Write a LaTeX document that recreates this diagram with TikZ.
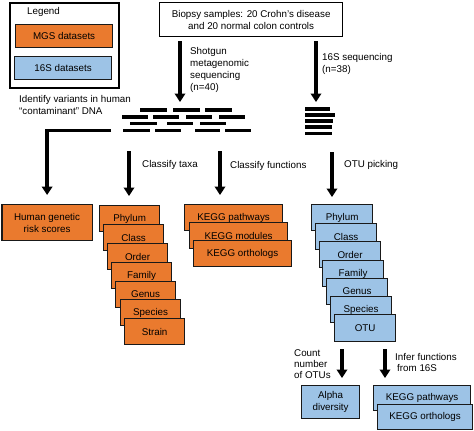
\documentclass[tikz,border=0pt]{standalone}
\usepackage{fontspec}
\setmainfont{Liberation Sans}
\usetikzlibrary{arrows.meta}
\definecolor{mgs}{HTML}{EA7A2E}
\definecolor{sixs}{HTML}{9DC3E6}
\begin{document}
\begin{tikzpicture}[x=1pt,y=-1pt, font=\fontsize{9.8}{12}\selectfont,
 arr/.style={line width=3.3pt, -{Triangle[width=10.5pt,length=8.5pt]}},
 box/.style={draw=black!90, line width=1.2pt, inner sep=0pt, align=center},
 mgsbox/.style={box, fill=mgs},
 sbox/.style={box, fill=sixs},
 stack/.style={anchor=north west, minimum width=60pt, minimum height=26pt},
 kstack/.style={anchor=north west, minimum width=98pt, minimum height=26pt},
 lbl/.style={anchor=west, inner sep=0pt, align=left},
 readbar/.style={line width=3.5pt}]
\useasboundingbox (0,0) rectangle (474,431);

% legend
\node[draw, line width=2.2pt, minimum width=109pt, minimum height=85pt, anchor=north west, inner sep=0pt] (legend) at (9,2) {};
\node[lbl] (legtitle) at (27,12) {Legend};
\node[mgsbox, minimum width=97pt, minimum height=23pt, anchor=north west] (mgsleg) at (15,24) {MGS datasets};
\node[sbox, minimum width=97pt, minimum height=23pt, anchor=north west] (sleg) at (14,56) {16S datasets};

% biopsy
\node[box, draw=black, line width=1.3pt, minimum width=183pt, minimum height=34pt, anchor=north west] (biopsy) at (159,2) {Biopsy samples: 20 Crohn's disease\\and 20 normal colon controls};

% labels
\node[lbl] (shotlbl) at (190,69.5) {Shotgun\\metagenomic\\sequencing\\(n=40)};
\node[lbl] (s16lbl) at (322,63.5) {16S sequencing\\(n=38)};
\node[lbl] (idlbl) at (19,105) {Identify variants in human\\``contaminant'' DNA};

% top arrows
\coordinate (mgstip) at (180,102);
\coordinate (s16tip) at (316,102);
\draw[arr, shorten <=4pt] (biopsy.south -| mgstip) -- (mgstip);
\draw[arr, shorten <=4pt] (biopsy.south -| s16tip) -- (s16tip);

% MGS reads
\foreach \a/\b/\y in {140/167/110,173/200/110,205/232/110,
  122/148/117,153/179/117,186/212/117,219/245/117,
  130/157/123.5,167/193/123.5,200/226/123.5,
  123/150/130.5,155/181/130.5,195/220/130.5,225/251/130.5}
  \draw[readbar] (\a,\y) -- (\b,\y);
% 16S reads
\foreach \b/\y in {330/109,335/115,333/121,332/127,332/133.5}
  \draw[readbar] (305,\y) -- (\b,\y);

% orange boxes
\node[mgsbox, anchor=north west, minimum width=90pt, minimum height=36pt] (human) at (1.5,204) {Human genetic\\risk scores};

\node[mgsbox, stack] (mphylum) at (99,205) {Phylum};
\node[mgsbox, stack] (mclass) at (103,224) {Class};
\node[mgsbox, stack] (morder) at (107,243) {Order};
\node[mgsbox, stack] (mfamily) at (111,262) {Family};
\node[mgsbox, stack] (mgenus) at (115,281) {Genus};
\node[mgsbox, stack] (mspecies) at (120,299) {Species};
\node[mgsbox, stack] (mstrain) at (124,318) {Strain};

\node[mgsbox, kstack] (mkp) at (184,204) {KEGG pathways};
\node[mgsbox, kstack] (mkm) at (189,222) {KEGG modules};
\node[mgsbox, kstack] (mko) at (193,240) {KEGG orthologs};

% blue boxes
\node[sbox, stack, minimum width=61pt] (bphylum) at (311,204) {Phylum};
\node[sbox, stack, minimum width=61pt] (bclass) at (315,223) {Class};
\node[sbox, stack, minimum width=61pt] (border) at (319,241) {Order};
\node[sbox, stack, minimum width=61pt] (bfamily) at (322,260) {Family};
\node[sbox, stack, minimum width=61pt] (bgenus) at (326,278) {Genus};
\node[sbox, stack, minimum width=61pt] (bspecies) at (330,296) {Species};
\node[sbox, stack, minimum width=61pt, minimum height=27pt] (botu) at (334,314) {OTU};

\node[sbox, anchor=north west, minimum width=58pt, minimum height=33pt] (alpha) at (301,385) {Alpha\\diversity};
\node[sbox, anchor=north west, minimum width=97pt, minimum height=25pt] (bkp) at (373,385) {KEGG pathways};
\node[sbox, anchor=north west, minimum width=95pt, minimum height=25pt] (bko) at (377,404) {KEGG orthologs};

% middle arrows
\coordinate (humstart) at (111,130.5);
\draw[arr, shorten >=9pt] (humstart) -| (human.north);
\coordinate (taxstart) at (129,151);
\draw[arr, shorten >=9pt] (taxstart) -- (taxstart |- mphylum.north);
\coordinate (kfstart) at (220,151);
\draw[arr, shorten >=9pt] (kfstart) -- (kfstart |- mkp.north);
\coordinate (otustart) at (332,152);
\draw[arr, shorten >=7pt] (otustart) -- (otustart |- bphylum.north);

\node[lbl] (taxlbl) at (142,165) {Classify taxa};
\node[lbl] (funlbl) at (230,166) {Classify functions};
\node[lbl] (otulbl) at (344,165) {OTU picking};

% bottom arrows
\coordinate (cntx) at (342,0);
\coordinate (infx) at (385,0);
\draw[arr, shorten <=7pt, shorten >=7pt] (botu.south -| cntx) -- (alpha.north -| cntx);
\draw[arr, shorten <=7pt, shorten >=7pt] (botu.south -| infx) -- (bkp.north -| infx);

\node[lbl, font=\fontsize{9.8}{11}\selectfont] (cntlbl) at (294,364) {Count\\number\\of OTUs};
\node[lbl, font=\fontsize{9.8}{11}\selectfont] (inflbl) at (395,362.5) {Infer functions\\\hspace*{2pt}from 16S};
\end{tikzpicture}
\end{document}
